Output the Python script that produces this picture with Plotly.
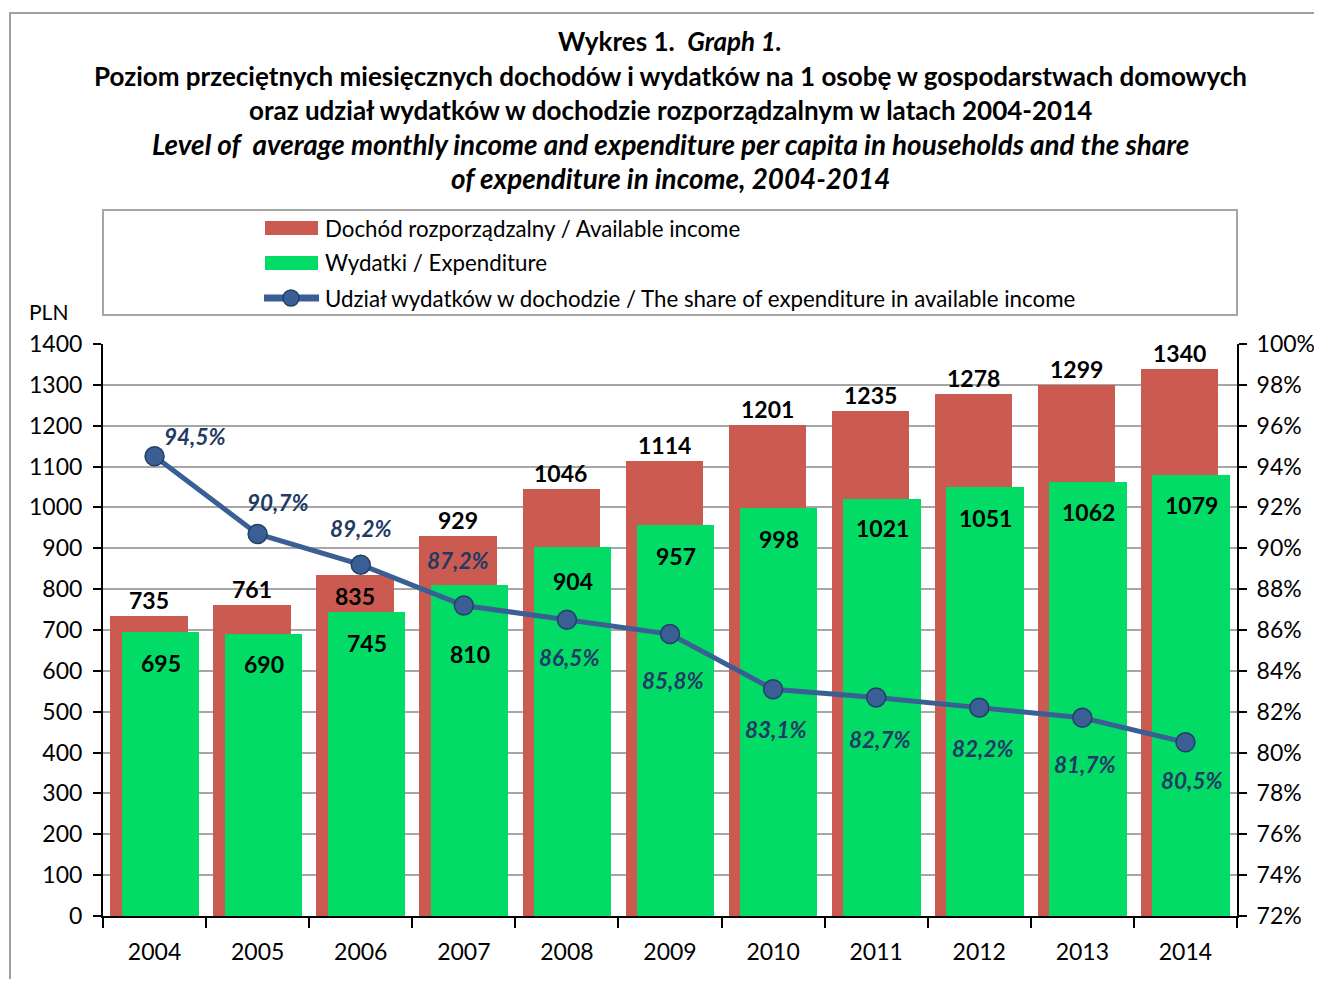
import plotly.graph_objects as go

# ---------------- data ----------------
years = ["2004", "2005", "2006", "2007", "2008", "2009", "2010", "2011", "2012", "2013", "2014"]
income = [735, 761, 835, 929, 1046, 1114, 1201, 1235, 1278, 1299, 1340]
expenditure = [695, 690, 745, 810, 904, 957, 998, 1021, 1051, 1062, 1079]
share = [94.5, 90.7, 89.2, 87.2, 86.5, 85.8, 83.1, 82.7, 82.2, 81.7, 80.5]
share_ticks = list(range(72, 101, 2))

name_income = "Dochód rozporządzalny / Available income"
name_exp = "Wydatki / Expenditure"
name_share = "Udział wydatków w dochodzie / The share of expenditure in available income"

# ---------------- style ----------------
FONT = "Lato"
RED = "#CB5A50"
GREEN = "#02DC66"
BLUE = "#3A5F95"
BLUE_DARK = "#243F66"
LABEL_BLUE = "#1F3A64"
GRID = "#A6A6A6"

# label offsets in pixels (layout only)
red_dy = [16, 16, -21, 16, 16, 16, 16, 16, 16, 16, 16]
green_dy = [-31, -30, -31, -69, -34, -31, -31, -29, -31, -30, -30]
pct_dx = [40, 20, 0, -6, 3, 3, 3, 4, 4, 3, 7]
pct_dy = [20, 31, 36, 45, -38, -46, -40, -42, -41, -47, -38]

OFF = 8  # browser body margin
FW, FH = 1322 - 2 * OFF, 987 - 2 * OFF

fig = go.Figure()
fig.add_trace(go.Bar(x=years, y=income, name=name_income, marker=dict(color=RED, line=dict(width=0)),
                     width=0.75, offset=-0.43, showlegend=False))
fig.add_trace(go.Bar(x=years, y=expenditure, name=name_exp, marker=dict(color=GREEN, line=dict(width=0)),
                     width=0.75, offset=-0.32, showlegend=False))
fig.add_trace(go.Scatter(x=years, y=share, name=name_share, yaxis="y2", mode="lines+markers",
                         line=dict(color=BLUE, width=5),
                         marker=dict(size=19, color=BLUE, line=dict(color=BLUE_DARK, width=1.5)),
                         showlegend=False))

ann = []
for i in range(len(years)):
    ann.append(dict(x=i, y=income[i], xref="x", yref="y", text=f"<b>{income[i]}</b>", showarrow=False,
                    xshift=-6, yshift=red_dy[i], font=dict(family=FONT, size=23, color="black")))
    ann.append(dict(x=i, y=expenditure[i], xref="x", yref="y", text=f"<b>{expenditure[i]}</b>", showarrow=False,
                    xshift=6, yshift=green_dy[i], font=dict(family=FONT, size=23, color="black")))
    ann.append(dict(x=i, y=share[i], xref="x", yref="y2",
                    text="<b><i>" + f"{share[i]:.1f}".replace(".", ",") + "%</i></b>", showarrow=False,
                    xshift=pct_dx[i], yshift=pct_dy[i], font=dict(family=FONT, size=22.5, color=LABEL_BLUE)))

# plot area geometry in page pixels: left 103, right 1237, top 344, bottom 916
L, R, T, B = 103, 1237, 344, 916
W, H = R - L, B - T
def px(x):
    return (x - L) / W
def py(y):
    return (B - y) / H

title_lines = [
    ("<b>Wykres 1.  <i>Graph 1.</i></b>", 41, 26),
    ("<b>Poziom przeciętnych miesięcznych dochodów i wydatków na 1 osobę w gospodarstwach domowych</b>", 76, 26),
    ("<b>oraz udział wydatków w dochodzie rozporządzalnym w latach 2004-2014</b>", 110, 26),
    ("<b><i>Level of  average monthly income and expenditure per capita in households and the share</i></b>", 144, 27.8),
    ("<b><i>of expenditure in income, 2004-2014</i></b>", 178, 27.8),
]
for t, yy, fs in title_lines:
    ann.append(dict(x=px(670), y=py(yy), xref="paper", yref="paper", text=t, showarrow=False,
                    xanchor="center", yanchor="middle", font=dict(family=FONT, size=fs, color="black")))

ann.append(dict(x=px(48), y=py(312), xref="paper", yref="paper", text="PLN", showarrow=False,
                xanchor="center", yanchor="middle", font=dict(family=FONT, size=21, color="black")))

# manual legend
shapes = []
shapes.append(dict(type="rect", xref="paper", yref="paper", x0=px(10), x1=px(1400), y0=py(1100), y1=py(13),
                   line=dict(color="#A0A0A0", width=2), fillcolor="rgba(0,0,0,0)", layer="below"))
shapes.append(dict(type="rect", xref="paper", yref="paper", x0=px(103), x1=px(1237), y0=py(315), y1=py(210),
                   line=dict(color="#A6A6A6", width=2), fillcolor="rgba(0,0,0,0)"))
leg_rows = [(name_income, 228, RED), (name_exp, 263, GREEN), (name_share, 298, None)]
for text, yy, col in leg_rows:
    if col:
        shapes.append(dict(type="rect", xref="paper", yref="paper", x0=px(265), x1=px(318),
                           y0=py(yy + 7), y1=py(yy - 7), line=dict(width=0), fillcolor=col))
    else:
        shapes.append(dict(type="line", xref="paper", yref="paper", x0=px(264), x1=px(319),
                           y0=py(yy), y1=py(yy), line=dict(color=BLUE, width=7)))
        shapes.append(dict(type="circle", xref="paper", yref="paper", x0=px(283), x1=px(299),
                           y0=py(yy + 8), y1=py(yy - 8), line=dict(color=BLUE_DARK, width=1.5), fillcolor=BLUE))
    ann.append(dict(x=px(323), y=py(yy), xref="paper", yref="paper", text=text, showarrow=False,
                    xanchor="left", yanchor="middle", font=dict(family=FONT, size=22.3, color="black")))

fig.update_layout(
    width=FW, height=FH,
    margin=dict(l=L - OFF, r=FW - (R - OFF), t=T - OFF, b=FH - (B - OFF), autoexpand=False),
    paper_bgcolor="white", plot_bgcolor="white",
    barmode="overlay", bargap=0,
    font=dict(family=FONT, size=23, color="black"),
    annotations=ann, shapes=shapes,
    xaxis=dict(type="category", range=[-0.5, len(years) - 0.5], showline=True, linecolor="black", linewidth=2,
               ticks="outside", tickson="boundaries", ticklen=10, tickwidth=2, tickcolor="black",
               showgrid=False, ticklabelstandoff=14, tickfont=dict(size=23)),
    yaxis=dict(range=[0, 1400], dtick=100, tick0=0, showgrid=True, gridcolor=GRID, gridwidth=2,
               showline=True, linecolor="black", linewidth=2, ticks="outside", ticklen=8, tickwidth=2,
               tickcolor="black", zeroline=False, tickfont=dict(size=23), ticklabelstandoff=6),
    yaxis2=dict(overlaying="y", side="right", range=[72, 100], tickvals=share_ticks,
                ticktext=[f"{v}%" for v in share_ticks], showgrid=False, showline=True,
                linecolor="black", linewidth=2, ticks="outside", ticklen=8, tickwidth=2, tickcolor="black",
                zeroline=False, tickfont=dict(size=23), ticklabelstandoff=5),
)

fig.write_html("out.html")
